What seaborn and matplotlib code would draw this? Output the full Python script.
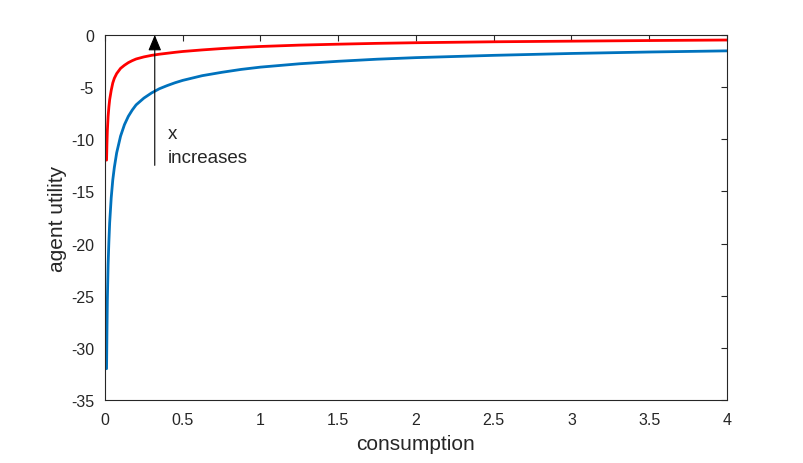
import pandas as pd
import matplotlib
matplotlib.use("Agg")
import matplotlib.pyplot as plt
import seaborn as sns

# ---- data ----
consumption = [0.01, 0.0125, 0.015, 0.02, 0.025, 0.03, 0.04, 0.05, 0.06, 0.075, 0.1,
               0.125, 0.15, 0.175, 0.2, 0.25, 0.3, 0.35, 0.4, 0.45, 0.5, 0.625, 0.75,
               0.875, 1.0, 1.25, 1.5, 1.75, 2.0, 2.5, 3.0, 3.5, 4.0]
utility_high_x = [-12.0, -10.4, -9.2, -7.8, -6.9, -6.2, -5.3, -4.6, -4.15, -3.7, -3.2,
                  -2.9, -2.65, -2.46, -2.3, -2.1, -1.95, -1.84, -1.75, -1.66, -1.58, -1.43, -1.3,
                  -1.19, -1.1, -0.97, -0.88, -0.8, -0.74, -0.65, -0.59, -0.53, -0.48]
utility_low_x = [-32.0, -28.5, -25.5, -22.0, -19.8, -18.0, -15.6, -13.9, -12.7, -11.3, -9.7,
                 -8.6, -7.8, -7.2, -6.7, -6.05, -5.55, -5.15, -4.85, -4.58, -4.35, -3.9, -3.58,
                 -3.3, -3.08, -2.76, -2.52, -2.32, -2.17, -1.95, -1.77, -1.63, -1.52]

xticks = [0, 0.5, 1, 1.5, 2, 2.5, 3, 3.5, 4]
xticklabels = ["0", "0.5", "1", "1.5", "2", "2.5", "3", "3.5", "4"]
yticks = [-35, -30, -25, -20, -15, -10, -5, 0]

df = pd.DataFrame({
    "consumption": consumption * 2,
    "utility": utility_low_x + utility_high_x,
    "series": ["low"] * len(consumption) + ["high"] * len(consumption),
})

# ---- style (MATLAB-like) ----
sns.set_style("white")
plt.rcParams["font.family"] = ["Liberation Sans", "DejaVu Sans"]
plt.rcParams["axes.unicode_minus"] = False
dark = "#262626"

fig = plt.figure(figsize=(8.04, 4.64), dpi=100)
ax = fig.add_axes([0.1306, 0.1358, 0.7736, 0.7866])

sns.lineplot(data=df, x="consumption", y="utility", hue="series",
             palette={"low": "#0072BD", "high": "#FF0000"},
             hue_order=["low", "high"], linewidth=2.0, legend=False,
             estimator=None, sort=False, ax=ax)

ax.set_xlim(0, 4)
ax.set_ylim(-35, 0)
ax.set_xticks(xticks)
ax.set_xticklabels(xticklabels)
ax.set_yticks(yticks)
ax.tick_params(direction="in", top=True, right=True, length=4.5, width=0.8,
               colors=dark, labelsize=11.5)
ax.tick_params(axis="x", pad=9)
ax.tick_params(axis="y", pad=8)
for s in ax.spines.values():
    s.set_color(dark)
    s.set_linewidth(0.8)

ax.set_xlabel("consumption", fontsize=15, color=dark, labelpad=5)
ax.set_ylabel("agent utility", fontsize=15, color=dark, labelpad=3)

# arrow + annotation
ax.annotate("", xy=(0.32, 0), xytext=(0.32, -12.5),
            arrowprops=dict(arrowstyle="-|>,head_length=0.6,head_width=0.25",
                            color="black", lw=0.8,
                            mutation_scale=16, shrinkA=0, shrinkB=0))
ax.text(0.405, -9.4, "x", fontsize=13.5, color=dark, va="center", ha="left")
ax.text(0.405, -11.7, "increases", fontsize=13.5, color=dark, va="center", ha="left")

plt.savefig("out.png", dpi=100)
plt.close()
